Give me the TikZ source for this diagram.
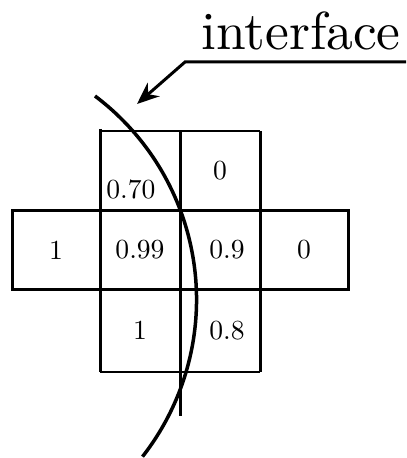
\documentclass[tikz,border=0pt]{standalone}
\usepackage{fontspec}
\setmainfont{lmroman10-regular.otf}
\usepackage{tikz}
\usetikzlibrary{arrows.meta, positioning}

\begin{document}
\begin{tikzpicture}[
  x=0.5pt, y=-0.5pt,
  font=\fontsize{13.8}{16}\selectfont,
  cell/.style={
    rectangle,
    minimum width=40pt,
    minimum height=39pt,
    inner sep=0pt,
    outer sep=0pt
  },
  wide/.style={cell, minimum width=44pt},
  grid/.style={line width=1.5pt},
  thingrid/.style={line width=0.75pt},
  iface/.style={line width=1.75pt},
  pointer/.style={-{Stealth[length=11pt, width=9pt]}, line width=1.5pt},
  title/.style={font=\fontsize{26.75}{32}\selectfont, inner sep=0pt},
  node distance=0pt
]
\useasboundingbox (0,0) rectangle (406,458);

% =========================
% Title and pointer
% =========================
\node[title, anchor=base] (ttl) at (301,50) {interface};
\coordinate (lead) at (406,62);
\coordinate (kink) at (185,62);
\coordinate (tip) at (137,104);
\draw[pointer] (lead) -- (kink) -- (tip);

% =========================
% Cells
% =========================
\node[cell] (c99) at (140,250) {0.99};
\node[cell, right=of c99] (c9) {\hspace*{7pt}0.9};
\node[wide, right=of c9] (c0r) {0};
\node[wide, left=of c99] (c1l) {1};

\node[cell, minimum height=40pt, above=of c99] (c70) {};
\node[cell, minimum height=40pt, above=of c9] (c0t) {0};

\node[cell, minimum height=41.5pt, below=of c99] (c1b) {1};
\node[cell, minimum height=41.5pt, below=of c9] (c8) {\hspace*{7pt}0.8};

\node[anchor=base west, inner sep=0pt] (v70) at ([shift={(3pt,6pt)}]c70.south west) {0.70};

% =========================
% Grid lines
% =========================
\coordinate (stem) at ([yshift=-22pt]c8.south west);

\draw[grid] (c1l.north west) rectangle (c0r.south east);
\draw[grid] ([yshift=1pt]c70.north west) -- (c1b.south west);
\draw[grid] (c70.north east) -- (stem);
\draw[grid] (c0t.north east) -- (c8.south east);
\draw[thingrid] (c70.north west) -- (c0t.north east);
\draw[thingrid] (c1b.south west) -- (c8.south east);

% =========================
% Interface curve
% =========================
\draw[iface] (95,96) arc[start angle=53, end angle=-38, radius=127.5pt];

\end{tikzpicture}
\end{document}
